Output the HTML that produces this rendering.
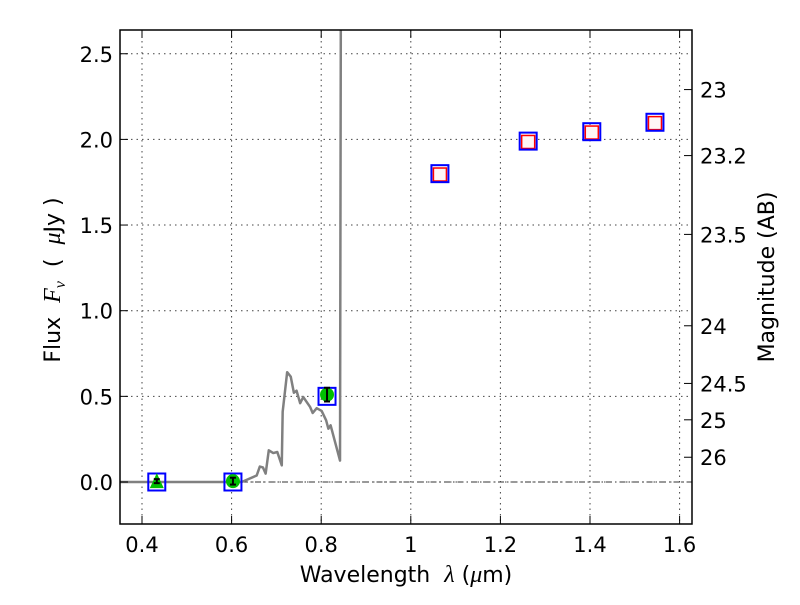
<!DOCTYPE html>
<html><head><meta charset="utf-8"><style>
body{margin:0;background:#fff;}
svg text{font-family:"DejaVu Sans","Liberation Sans",sans-serif;white-space:pre;}
</style></head><body>
<svg id="chart" width="800" height="600" xmlns="http://www.w3.org/2000/svg">
<defs><clipPath id="clip"><rect x="120" y="30" width="572" height="494"/></clipPath></defs>
<rect x="0" y="0" width="800" height="600" fill="#fff"/>
<g id="grid"></g>
<g id="marks" clip-path="url(#clip)"></g>
<rect x="120" y="30" width="572" height="494" fill="none" stroke="#000" stroke-width="1.5"/>
<g id="axes"></g>
<text x="406" y="582" font-size="22" text-anchor="middle" xml:space="preserve">Wavelength  <tspan font-family="Liberation Serif" font-style="italic" font-size="24">λ</tspan> (<tspan font-family="Liberation Serif" font-style="italic" font-size="24">μ</tspan>m)</text>
<text transform="translate(60,280) rotate(-90)" font-size="22" text-anchor="middle" xml:space="preserve">Flux  <tspan font-family="Liberation Serif" font-style="italic" font-size="24">F<tspan font-size="16" dy="5">ν</tspan></tspan><tspan dy="-5">  (  </tspan><tspan font-family="Liberation Serif" font-style="italic" font-size="24">μ</tspan>Jy )</text>
<text transform="translate(774,277) rotate(-90)" font-size="22" text-anchor="middle">Magnitude (AB)</text>
</svg>
<script>
const xTicks=[0.4,0.6,0.8,1.0,1.2,1.4,1.6];
const xTickLabels=["0.4","0.6","0.8","1","1.2","1.4","1.6"];
const yTicks=[0,0.5,1.0,1.5,2.0,2.5];
const yTickLabels=["0.0","0.5","1.0","1.5","2.0","2.5"];
const magTicks=[23,23.2,23.5,24,24.5,25,26];
const magTickLabels=["23","23.2","23.5","24","24.5","25","26"];
const modelWave=[0.35,0.6,0.6225,0.656,0.663,0.670,0.676,0.683,0.693,0.702,0.712,0.714,0.724,0.732,0.739,0.745,0.753,0.760,0.775,0.781,0.790,0.801,0.811,0.816,0.821,0.842,0.844];
const modelFlux=[0,0,0,0.038,0.090,0.085,0.049,0.185,0.169,0.175,0.097,0.410,0.641,0.615,0.521,0.533,0.460,0.496,0.439,0.403,0.431,0.415,0.360,0.311,0.331,0.125,3.0];
const obsWave=[0.433,0.603,0.813,1.065,1.262,1.404,1.545];
const obsFlux=[0,0,0.5,1.8,1.99,2.045,2.10];
const detWave=[0.603,0.813];
const detFlux=[0.005,0.51];
const detErr=[0.02,0.04];
const limWave=[0.433];
const limFlux=[0.005];
const modWave=[1.065,1.262,1.404,1.545];
const modFlux=[1.795,1.985,2.04,2.095];
const NS='http://www.w3.org/2000/svg';
function X(v){return 142+(v-0.4)*448;}
function Y(v){return 482-v*171.3;}
function mk(t,a,p){const e=document.createElementNS(NS,t);for(const k in a)e.setAttribute(k,a[k]);p.appendChild(e);return e;}
const grid=document.getElementById('grid'),marks=document.getElementById('marks'),axes=document.getElementById('axes');
xTicks.forEach((t,i)=>{const x=X(t);
 const g=mk('line',{x1:x,x2:x,y1:30,y2:524,stroke:'#444','stroke-dasharray':'1.5,4','stroke-width':1},grid);
 
 mk('line',{x1:x,x2:x,y1:524,y2:516,stroke:'#000'},axes);mk('line',{x1:x,x2:x,y1:30,y2:38,stroke:'#000'},axes);
 const l=mk('text',{x:x,y:552,'font-size':21,'text-anchor':'middle'},axes);l.textContent=xTickLabels[i];
 });
yTicks.forEach((t,i)=>{const y=Y(t);
 const g=mk('line',{x1:120,x2:692,y1:y,y2:y,stroke:'#444','stroke-dasharray':'1.5,4','stroke-width':1},grid);
 
 mk('line',{x1:120,x2:128,y1:y,y2:y,stroke:'#000'},axes);
 const l=mk('text',{x:113,y:y+8,'font-size':21,'text-anchor':'end'},axes);l.textContent=yTickLabels[i];
 });
magTicks.forEach((m,i)=>{const f=Math.pow(10,(23.9-m)/2.5);const y=Y(f);
 mk('line',{x1:692,x2:684,y1:y,y2:y,stroke:'#000'},axes);
 const l=mk('text',{x:700,y:y+8,'font-size':21},axes);l.textContent=magTickLabels[i];
 });
const zl=mk('line',{x1:120,x2:692,y1:Y(0),y2:Y(0),stroke:'#333','stroke-dasharray':'6,3,1.5,3','stroke-width':1},marks);

const pl=mk('polyline',{points:modelWave.map((w,i)=>X(w)+','+Y(modelFlux[i])).join(' '),fill:'none',stroke:'#808080','stroke-width':2.5,'stroke-linejoin':'round'},marks);

modWave.forEach((w,i)=>{const x=X(w),y=Y(modFlux[i]);
 const r=mk('rect',{x:x-6.5,y:y-6.5,width:13,height:13,fill:'#fff6f6',stroke:'#f00','stroke-width':1.5},marks);
 });
obsWave.forEach((w,i)=>{const x=X(w),y=Y(obsFlux[i]);
 const r=mk('rect',{x:x-8.5,y:y-8.5,width:17,height:17,fill:'none',stroke:'#00f','stroke-width':2},marks);
 });
detWave.forEach((w,i)=>{const x=X(w),y=Y(detFlux[i]);
 const c=mk('circle',{cx:x,cy:y,r:7,fill:'#00c000'},marks);
 
 const e=Math.max(detErr[i]*171.3,2);
 mk('line',{x1:x,x2:x,y1:y-e,y2:y+e,stroke:'#000','stroke-width':2},marks);
 mk('line',{x1:x-3,x2:x+3,y1:y-e,y2:y-e,stroke:'#000','stroke-width':2},marks);
 mk('line',{x1:x-3,x2:x+3,y1:y+e,y2:y+e,stroke:'#000','stroke-width':2},marks);});
limWave.forEach((w,i)=>{const x=X(w),y=Y(limFlux[i]);
 const t=mk('polygon',{points:`${x},${y-8} ${x-7},${y+7} ${x+7},${y+7}`,fill:'#00c000'},marks);
 
 mk('line',{x1:x-3,x2:x+3,y1:y-2,y2:y-2,stroke:'#000','stroke-width':2},marks);
 mk('line',{x1:x-3,x2:x+3,y1:y+2,y2:y+2,stroke:'#000','stroke-width':2},marks);
 mk('line',{x1:x,x2:x,y1:y-2,y2:y+2,stroke:'#000','stroke-width':2},marks);});
</script>
</body></html>
